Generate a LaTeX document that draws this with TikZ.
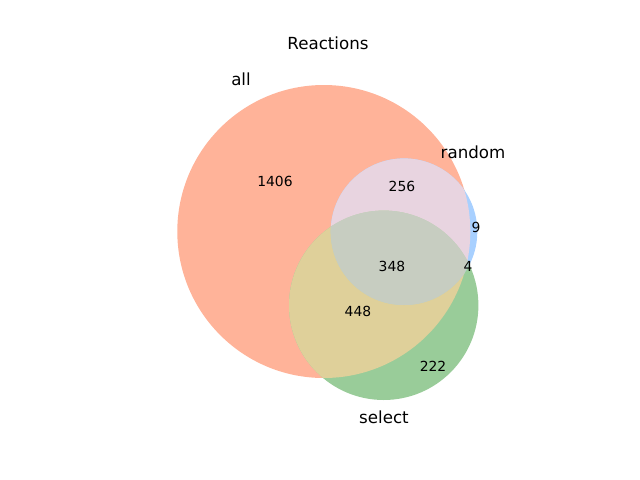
\documentclass[tikz,border=0pt]{standalone}
\usepackage{fontspec}
\setmainfont{DejaVu Sans}
\usepackage{xcolor}
\definecolor{AllOnly}{HTML}{FFB399}
\definecolor{RandOnly}{HTML}{A8D0FF}
\definecolor{SelOnly}{HTML}{99CC99}
\definecolor{AllRand}{HTML}{E8D4E0}
\definecolor{AllSel}{HTML}{DFD09A}
\definecolor{RandSel}{HTML}{B9D2CB}
\definecolor{Core}{HTML}{C7CDC1}
\usetikzlibrary{positioning}
\tikzset{
  setlabel/.style={font=\fontsize{12}{14}\selectfont,inner sep=0pt},
  count/.style={font=\fontsize{10}{12}\selectfont,inner sep=0pt},
  heading/.style={font=\fontsize{12}{14}\selectfont,inner sep=0pt}
}

\begin{document}
\begin{tikzpicture}[x=0.72pt,y=-0.72pt]
  \useasboundingbox (0,0) rectangle (640,480);
  \coordinate (cAll) at (323.8,231.5);
  \coordinate (cRand) at (404,231.7);
  \coordinate (cSel) at (383.7,305.3);
  \def\rAll{146.5}
  \def\rRand{73.3}
  \def\rSel{94.7}
  % single sets
  \fill[AllOnly] (cAll) circle[radius=\rAll];
  \fill[RandOnly] (cRand) circle[radius=\rRand];
  \fill[SelOnly] (cSel) circle[radius=\rSel];
  % pairs
  \begin{scope}
    \clip (cAll) circle[radius=\rAll];
    \fill[AllRand] (cRand) circle[radius=\rRand];
  \end{scope}
  \begin{scope}
    \clip (cAll) circle[radius=\rAll];
    \fill[AllSel] (cSel) circle[radius=\rSel];
  \end{scope}
  \begin{scope}
    \clip (cRand) circle[radius=\rRand];
    \fill[RandSel] (cSel) circle[radius=\rSel];
  \end{scope}
  % all three
  \begin{scope}
    \clip (cAll) circle[radius=\rAll];
    \clip (cRand) circle[radius=\rRand];
    \fill[Core] (cSel) circle[radius=\rSel];
  \end{scope}
  \node[heading] (title) at (328,43) {Reactions};
  \node[setlabel] (lAll) at (241,79) {all};
  \node[setlabel] (lRand) at (473,152) {random};
  \node[setlabel] (lSel) at (384,417) {select};
  \node[count] (nAll) at (275,181) {1406};
  \node[count] (nAllRand) at (402,186) {256};
  \node[count] (nRand) at (476,227) {9};
  \node[count] (nRandSel) at (468,266) {4};
  \node[count] (nCore) at (392,266) {348};
  \node[count] (nAllSel) at (358,311) {448};
  \node[count] (nSel) at (433,366) {222};
\end{tikzpicture}
\end{document}
